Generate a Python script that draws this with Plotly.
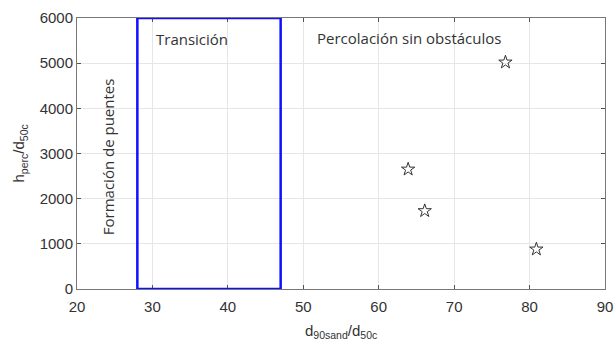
import plotly.graph_objects as go

x_vals = [76.8, 63.9, 66.1, 80.9]
y_vals = [5020, 2650, 1730, 880]
box_x = [28, 47]
box_y = [0, 6000]
x_ticks = [20, 30, 40, 50, 60, 70, 80, 90]
y_ticks = [0, 1000, 2000, 3000, 4000, 5000, 6000]

fig = go.Figure()
fig.add_trace(go.Scatter(
    x=x_vals, y=y_vals, mode="markers",
    marker=dict(symbol="star-open", size=10, color="#333333", line=dict(width=1)),
    showlegend=False, cliponaxis=False))
fig.add_shape(type="rect", x0=box_x[0], x1=box_x[1], y0=box_y[0], y1=box_y[1],
              xref="x", yref="y", line=dict(color="#1010ff", width=2.5))

tickfont = dict(family="Liberation Sans, Arial", size=15, color="#333333")
fig.update_xaxes(range=[20, 90], tickvals=x_ticks, ticks="inside", ticklen=4,
                 tickcolor="#555555", showline=True, linecolor="#777777", linewidth=1,
                 mirror="ticks", showgrid=True, gridcolor="#e6e6e6", zeroline=False,
                 tickfont=tickfont, automargin=False, ticklabelstandoff=4)
fig.update_yaxes(range=[0, 6000], tickvals=y_ticks, ticks="inside", ticklen=4,
                 tickcolor="#555555", showline=True, linecolor="#777777", linewidth=1,
                 mirror="ticks", showgrid=True, gridcolor="#e6e6e6", zeroline=False,
                 tickfont=tickfont, automargin=False)

titlefont = dict(family="Liberation Sans, Arial", size=15, color="#333333")
fig.add_annotation(xref="paper", yref="paper", x=0.5, y=-0.113,
                   text="d<sub>90sand</sub>/d<sub>50c</sub>", showarrow=False,
                   xanchor="center", yanchor="top", font=titlefont)
fig.add_annotation(xref="paper", yref="paper", x=-0.108, y=0.5,
                   text="h<sub>perc</sub>/d<sub>50c</sub>", showarrow=False,
                   textangle=-90, xanchor="center", yanchor="middle", font=titlefont)

annfont = dict(family="Open Sans, Noto Sans", size=15, color="#333333")
fig.add_annotation(x=30.2, y=5540, text="Transición", showarrow=False,
                   xanchor="left", yanchor="middle", font=annfont)
fig.add_annotation(x=51.6, y=5560, text="Percolación sin obstáculos", showarrow=False,
                   xanchor="left", yanchor="middle", font=annfont)
fig.add_annotation(x=24.05, y=2930, text="Formación de puentes", showarrow=False,
                   textangle=-90, xanchor="center", yanchor="middle", font=annfont)

fig.update_layout(width=616, height=342, margin=dict(l=77, r=11, t=18, b=53),
                  plot_bgcolor="white", paper_bgcolor="white")
fig.write_html("out.html", config={"displayModeBar": False},
               post_script="document.body.style.margin='0';")
